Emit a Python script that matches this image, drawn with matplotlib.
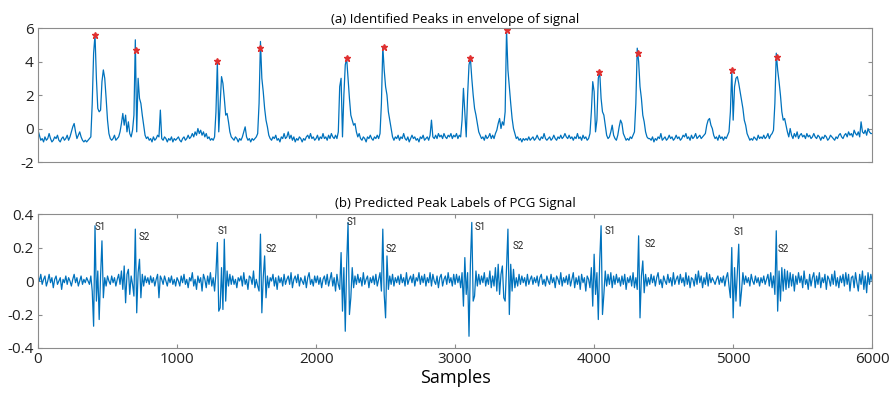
import numpy as np
import matplotlib
matplotlib.use("Agg")
import matplotlib.pyplot as plt
from matplotlib.ticker import FuncFormatter

# sampling step of the hand-read traces (samples)
step = 10

# (a) envelope, in tenths, one value every 10 samples (0..6000)
env_tenths = [
    -1, -4, -7, -6, -8, -5, -7, -6, -3, -6, -8, -7, -5, -6, -4, -7, -8, -6, -5, -7,
    -6, -4, -7, -5, -2, 1, 3, -2, -6, -4, -2, -5, -7, -8, -7, -8, -7, -6, -5, 15,
    45, 56, 30, 12, 10, 11, 28, 35, 30, 18, 5, -3, -6, -7, -6, -4, -7, -6, -5, -2,
    3, 9, 2, 8, -2, 4, -3, -5, -1, 8, 53, -2, 30, 18, 15, 8, 2, -4, -6, -5,
    -7, -6, -8, -5, -7, -6, -4, -5, 11, -6, -7, -5, -6, -8, -6, -7, -5, -8, -6, -7,
    -6, -5, -7, -8, -6, -5, -7, -6, -4, -6, -5, -3, -5, -2, -4, 0, -3, -1, -4, -2,
    -5, -3, -6, -5, -7, -6, -7, -5, 10, 40, -2, 15, 31, 27, 18, 8, 9, 4, -2, -5,
    -6, -7, -5, -6, -8, -6, -7, -5, -2, 1, -5, -7, -6, -8, -6, -7, -6, -5, -3, 15,
    52, 30, 22, 12, 5, 1, -4, -6, -7, -5, -6, -4, -7, -6, -8, -5, -6, -3, -6, -5,
    -2, -6, -4, -7, -5, -8, -6, -7, -5, -6, -8, -6, -7, -5, -4, -6, -3, -6, -5, -7,
    -6, -4, -7, -5, -6, -3, -6, -5, -7, -4, -6, -3, -5, -6, -4, -6, -2, 25, 30, -5,
    20, 38, 42, 30, 18, 8, 5, 2, 3, -2, -5, -3, -6, -7, -5, -6, -8, -5, -6, -4,
    -6, -7, -5, -6, -4, -6, -3, 15, 49, 35, 25, 20, 10, 5, 0, -5, -7, -5, -6, -4,
    -7, -5, -6, -3, -6, -7, -5, -8, -6, -4, -6, -5, -7, -6, -8, -5, -6, -4, -7, -6,
    -5, -7, -4, 5, -5, -6, -4, -6, -3, -5, -4, -6, -3, -5, -6, -4, -5, -3, -6, -4,
    -5, -3, -6, -4, -5, 5, 24, 10, -5, 20, 38, 42, 30, 20, 12, 8, 3, -2, -4, -6,
    -5, -7, -4, -6, -5, -3, -6, -4, -6, -3, -1, 3, 6, 0, 4, 2, 10, 59, 35, 25,
    15, 6, 0, -3, -6, -5, -7, -6, -8, -6, -7, -6, -7, -5, -7, -6, -5, -7, -6, -4,
    -6, -7, -5, -6, -3, -6, -7, -6, -5, -7, -6, -4, -6, -7, -5, -6, -4, -6, -5, -3,
    -5, -6, -4, -6, -5, -7, -5, -6, -3, -6, -5, -7, -4, -6, -5, -7, -6, -3, 10, 28,
    22, -2, 5, 30, 34, 18, 10, 8, 2, -4, -6, -5, -2, 2, -4, -6, -7, -4, 1, 5,
    3, -3, -5, -7, -6, -7, -5, -6, -4, -2, 15, 48, 40, 25, 18, 8, 4, -2, -5, -6,
    -6, -7, -5, -8, -6, -7, -5, -6, -3, -7, -6, -5, -7, -6, -4, -6, -5, -7, -6, -4,
    -6, -5, -7, -6, -4, -5, -3, -6, -5, -7, -4, -6, -5, -3, -6, -5, -4, -6, -5, -4,
    -3, 2, 5, 6, 2, 0, -4, -6, -5, -7, -4, -6, -5, -7, -5, -6, -4, -2, 10, 35,
    5, 25, 30, 31, 27, 22, 17, 12, 5, 2, -3, -5, -7, -6, -7, -5, -6, -7, -4, -6,
    -5, -6, -4, -6, -5, -3, -6, -4, -3, -1, 15, 45, 35, 28, 20, 10, 5, 6, 2, -2,
    -5, 0, -4, -6, -3, -5, -2, -6, -4, -3, -5, -4, -6, -3, -5, -4, -6, -5, -3, -5,
    -6, -4, -5, -7, -5, -6, -4, -5, -7, -6, -4, -5, -6, -7, -5, -6, -4, -3, -5, -6,
    -4, -3, -5, -2, -4, -3, -5, -1, -3, -4, -2, -5, 4, -2, -3, -1, -4, 0, -2, -3,
    -3,
]

# identified peaks (sample, value)
peak_x = [410, 705, 1290, 1597, 2223, 2489, 3108, 3374, 4036, 4317, 4993, 5317]
peak_y = [5.58, 4.7, 4.05, 4.82, 4.23, 4.87, 4.23, 5.9, 3.4, 4.53, 3.51, 4.27]

# (b) PCG signal, in hundredths, one value every 10 samples (0..6000)
pcg_cents = [
    3, 0, 4, -2, 1, 3, -3, 0, 4, -1, 2, -4, 1, 3, -2, 0, 2, -5, 1, -1,
    3, -2, 2, 0, -3, 1, 4, -1, 2, -3, 0, 3, -2, 1, -1, 2, 0, -2, 3, -6,
    -27, 33, -12, 6, -23, 3, 24, -10, 2, -3, 3, 0, -2, 3, -1, 2, -3, 1, 4, -2,
    6, -5, 9, -13, 4, 7, -8, 3, -2, -9, 31, -19, 5, 13, -10, 4, -3, 3, -1, 2,
    -2, 3, -1, 2, -3, 1, 4, -10, 3, 1, -2, 3, 0, -3, 2, -1, 3, -2, 1, -3,
    2, 0, -3, 3, -1, 4, -2, 1, -4, 2, 0, 5, -3, 1, -5, 3, -1, 2, -6, 4,
    1, -4, 3, -2, 5, -3, 2, -6, 5, 23, -18, -16, 8, -17, 25, -12, 6, -3, 4, -2,
    3, -2, 1, -4, 2, 0, 3, -3, 5, -2, 1, -5, 3, 2, -2, 6, -4, 1, -3, -6,
    28, -19, 2, 15, -10, 3, -4, 2, 0, 4, -3, 2, -5, 3, -1, 2, -3, 4, -2, 1,
    3, -2, 5, -4, 1, 3, -1, 4, -3, 2, 0, -2, 3, -4, 2, 5, -2, 1, -3, 3,
    -1, 3, -2, 2, -4, 1, 3, -2, 4, -3, 1, 5, -3, 2, -6, 4, -2, -5, 17, -18,
    8, -30, 10, 35, -20, -10, 8, -4, 3, -2, 4, -1, 2, -3, 5, -2, 1, 3, -4, 2,
    -1, 3, -2, 4, -3, 1, 5, -6, 31, -8, -22, 15, -5, 3, -2, 4, -3, 2, -1, 3,
    -2, 4, -1, 2, -3, 5, -2, 1, 3, -1, 4, -3, 2, 0, 5, -2, 3, -1, 4, -3,
    2, -1, 5, -3, 4, 0, -2, 3, -4, 2, 4, -3, 1, 3, -2, 5, -1, 2, -3, 4,
    -2, 4, -1, 3, -4, 5, -15, 14, -8, 5, -33, 10, 35, -12, -9, 6, -3, 4, -2, 3,
    -1, 5, -3, 2, -2, 6, -4, 3, -3, 8, -6, 10, -8, 4, 9, -10, -12, 8, 31, -20,
    10, -6, 7, -4, 2, -3, 4, -2, 3, -1, 2, -3, 4, -2, 1, 3, -2, 2, -1, 3,
    -3, 2, 4, -2, 1, -3, 3, 0, -2, 4, -1, 2, -4, 3, 1, -2, 5, -3, 2, -1,
    3, -2, 4, -3, 1, 5, -4, 2, -2, 3, -5, 4, -1, 2, -6, 3, 1, -4, 8, -15,
    16, -8, 5, -23, 12, 33, -20, -8, 6, -3, 4, -2, 5, -4, 3, -2, 4, -1, 2, -3,
    3, -2, 4, -5, 2, -1, 3, -3, 5, -4, 2, -5, 27, -22, 3, 12, -7, 4, -3, 2,
    -2, 4, -1, 3, -3, 2, 5, -2, 1, -4, 3, 0, -2, 4, -1, 2, -3, 5, -2, 1,
    3, -2, 4, -1, 2, -3, 5, -2, 3, -4, 2, 1, -3, 4, -2, 6, -1, 3, -4, 2,
    -2, 5, -3, 4, -1, 2, 0, -2, 1, 3, -2, 2, -1, 3, -3, 2, 5, -3, -10, 20,
    -22, 8, -12, 5, 22, -15, -6, 5, -2, 3, -1, 2, -3, 4, 0, -2, 3, -1, 2, -3,
    2, -1, 3, -2, 1, 4, -3, 5, -4, 3, -8, 30, -18, 6, -12, 8, -6, 7, -5, 6,
    -4, 5, -3, 4, -6, 3, -2, 5, -1, 3, -4, 6, -2, 1, -5, 4, -3, 2, 5, -4,
    3, -2, 5, -4, 2, -1, 4, -5, 3, 1, -3, 4, -2, 6, -3, 2, -4, 3, -1, 4,
    -3, 5, -2, 4, -6, 2, 3, -4, 5, -1, -6, 4, -2, 6, -5, 3, -7, 5, -2, 4,
    0,
]

# predicted peak labels (text, sample, value)
label_text = ["S1", "S2", "S1", "S2", "S1", "S2", "S1", "S2", "S1", "S2", "S1", "S2"]
label_x = [410, 727, 1295, 1640, 2223, 2503, 3137, 3417, 4079, 4360, 5000, 5317]
label_y = [0.32, 0.26, 0.30, 0.19, 0.35, 0.19, 0.32, 0.21, 0.30, 0.22, 0.29, 0.19]

env = np.array(env_tenths) / 10.0
pcg = np.array(pcg_cents) / 100.0
x_env = np.arange(len(env)) * step
x_pcg = np.arange(len(pcg)) * step

line_col = "#0072BD"
frame_col = "#8c8c8c"
plt.rcParams["axes.unicode_minus"] = False
plt.rcParams["font.family"] = ["Open Sans", "DejaVu Sans"]

fig = plt.figure(figsize=(8.9, 4.01), dpi=100)
ax1 = fig.add_axes([0.0427, 0.596, 0.9373, 0.334])
ax2 = fig.add_axes([0.0427, 0.1322, 0.9373, 0.334])

ax1.plot(x_env, env, color=line_col, lw=0.9)
ax1.plot(peak_x, peak_y, "*", color="#e03030", ms=4.5)
ax1.set_xlim(0, 6000)
ax1.set_ylim(-2, 6)
ax1.set_yticks([-2, 0, 2, 4, 6])
ax1.set_xticks([])
ax1.set_title("(a) Identified Peaks in envelope of signal", fontsize=9.5, pad=4)

ax2.plot(x_pcg, pcg, color=line_col, lw=0.9)
for t, xx, yy in zip(label_text, label_x, label_y):
    ax2.text(xx, yy, t, fontsize=7, family=["Roboto", "DejaVu Sans"], color="#222222",
             ha="left", va="center")
ax2.set_xlim(0, 6000)
ax2.set_ylim(-0.4, 0.4)
ax2.set_yticks([-0.4, -0.2, 0, 0.2, 0.4])
ax2.set_xticks([0, 1000, 2000, 3000, 4000, 5000, 6000])
ax2.set_title("(b) Predicted Peak Labels of PCG Signal", fontsize=9.5, pad=5)
ax2.set_xlabel("Samples", fontsize=13, labelpad=1)

fmt = FuncFormatter(lambda v, p: "%g" % round(v, 3))
for ax in (ax1, ax2):
    ax.yaxis.set_major_formatter(fmt)
    ax.xaxis.set_major_formatter(fmt)
    for s in ax.spines.values():
        s.set_color(frame_col)
        s.set_linewidth(0.8)
    ax.tick_params(direction="in", length=3, width=0.8, color=frame_col,
                   labelsize=11, labelcolor="#222222", top=True, right=True, pad=3)

fig.savefig("out.png", dpi=100)
